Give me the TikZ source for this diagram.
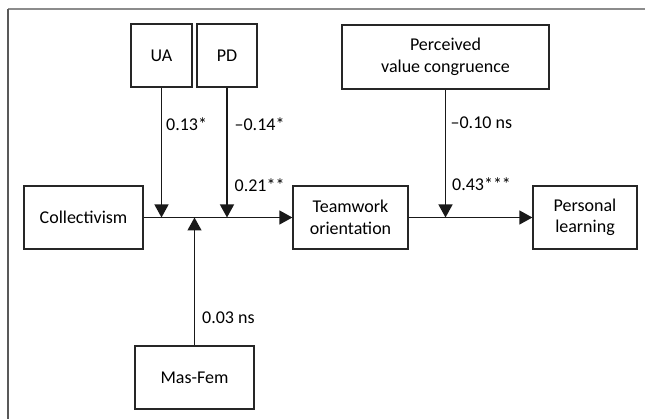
\documentclass[tikz,border=0pt]{standalone}
\usepackage{fontspec}
\setmainfont{Carlito}
\usetikzlibrary{arrows.meta}

\begin{document}
\begin{tikzpicture}[x=1pt,y=-1pt,
    every node/.style={font=\fontsize{18}{21.5}\selectfont},
    box/.style={draw=black!85,line width=1.25pt,inner sep=0pt,align=center,
        minimum height=63pt},
    link/.style={draw=black!90,line width=1.25pt,
        -{Triangle[length=13pt,width=14pt]}},
    coef/.style={anchor=west,inner sep=0pt}]

    \useasboundingbox (0,0) rectangle (645,419);
    \draw[black!45,line width=1.3pt] (8,9) -- (645,9);
    \draw[black!65,line width=1.3pt] (8,9) -- (8,419);

    \node[box,minimum width=119pt] (coll) at (83.5,217.5) {Collectivism};
    \node[box,minimum width=115pt] (team) at (350.5,217.5) {Teamwork\\orientation};
    \node[box,minimum width=104pt] (learn) at (585,217.5) {Personal\\learning};
    \node[box,minimum width=61pt] (ua) at (161.5,55.5) {UA};
    \node[box,minimum width=60pt] (pd) at (227,55.5) {PD};
    \node[box,minimum width=207pt,minimum height=64pt] (pvc) at (445.5,57)
        {Perceived\\value congruence};
    \node[box,minimum width=119pt] (masfem) at (194.5,377.5) {Mas-Fem};

    \coordinate (uaIn) at (ua.south |- coll.east);
    \coordinate (pdIn) at (pd.south |- coll.east);
    \coordinate (mfIn) at (masfem.north |- coll.east);
    \coordinate (pvcIn) at (pvc.south |- team.east);

    \draw[link] (coll) -- (team);
    \draw[link] (team) -- (learn);
    \draw[link] (ua) -- (uaIn) node[coef,pos=0.28,xshift=4pt] {0.13*};
    \draw[link] (pd) -- (pdIn)
        node[coef,pos=0.28,xshift=7pt] {\textendash0.14*}
        node[coef,pos=0.75,xshift=7pt] {0.21**};
    \draw[link] (pvc) -- (pvcIn)
        node[coef,pos=0.26,xshift=4.5pt] {\textendash0.10 ns}
        node[coef,pos=0.74,xshift=6pt] {0.43***};
    \draw[link] (masfem) -- (mfIn) node[coef,pos=0.22,xshift=7pt] {0.03 ns};

\end{tikzpicture}
\end{document}
